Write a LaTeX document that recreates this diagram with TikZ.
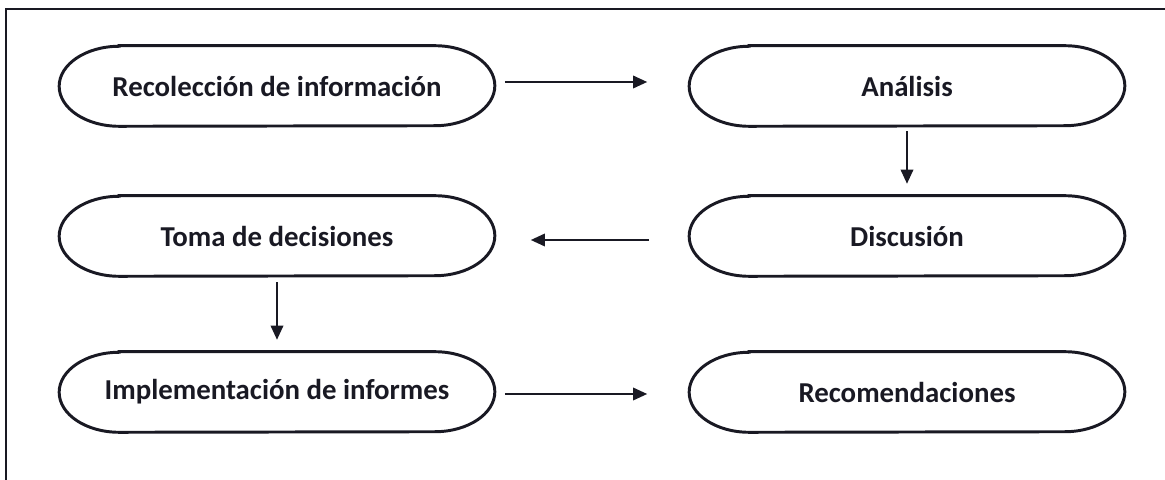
\documentclass[tikz,border=0pt]{standalone}
\usepackage{fontspec}
\setmainfont{Carlito}
\usetikzlibrary{arrows.meta,positioning,calc}

\begin{document}
\begin{tikzpicture}[x=0.025cm, y=0.025cm, every node/.style={font=\fontsize{20.5}{24}\selectfont\bfseries}]
        \definecolor{inkblack}{RGB}{25,25,35}

        \tikzset{
            pill/.style={minimum width=10.875cm, minimum height=2cm, inner sep=0pt, text=inkblack},
            outline/.style={draw=inkblack, line width=2.1pt},
            flow/.style={-{Triangle[length=10pt, width=9pt]}, draw=inkblack, line width=1pt}
        }

        \useasboundingbox (0,0) rectangle (1165,480);

        % page frame (top and left edge only)
        \draw[inkblack, line width=1.4pt] (6,0) |- (1165,471);

        % left column
        \node[pill] (recol) at (277,394) {Recolección de información};
        \node[pill] (toma) at (277,244) {Toma de decisiones};
        \node[pill] (impl) at (277,88) {Implementación de informes};

        % right column
        \node[pill] (anal) at (907,394) {Análisis};
        \node[pill] (disc) at (907,244) {Discusión};
        \node[pill] (recom) at (907,88) {Recomendaciones};

        % outlines with half-ellipse ends
        \foreach \n in {recol,toma,impl,anal,disc,recom}
            \draw[outline] ([xshift=1.5cm]\n.north west) -- ([xshift=-1.5cm]\n.north east)
                arc[start angle=90, end angle=-90, x radius=1.5cm, y radius=1cm]
                -- ([xshift=1.5cm]\n.south west)
                arc[start angle=270, end angle=90, x radius=1.5cm, y radius=1cm] -- cycle;

        % connectors
        \draw[flow] ([xshift=0.25cm, yshift=0.1cm]recol.east) -- ([xshift=-1.05cm, yshift=0.1cm]anal.west);
        \draw[flow] ([yshift=-0.12cm]anal.south) -- ([yshift=0.3cm]disc.north);
        \draw[flow] ([xshift=-1cm, yshift=-0.1cm]disc.west) -- ([xshift=0.9cm, yshift=-0.1cm]toma.east);
        \draw[flow] ([yshift=-0.15cm]toma.south) -- ([yshift=0.3cm]impl.north);
        \draw[flow] ([xshift=0.25cm, yshift=-0.05cm]impl.east) -- ([xshift=-1.05cm, yshift=-0.05cm]recom.west);
    \end{tikzpicture}
\end{document}
